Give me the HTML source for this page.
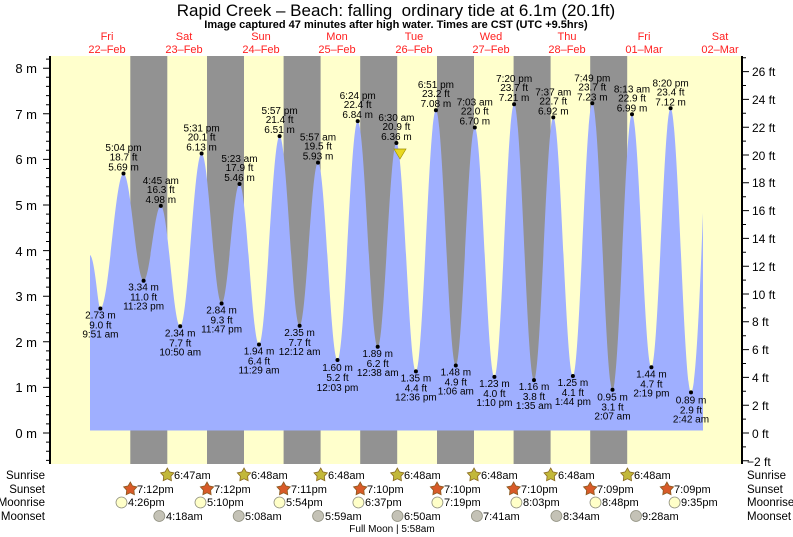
<!DOCTYPE html>
<html><head><meta charset="utf-8"><style>
html,body{margin:0;padding:0;background:#fff;}
svg{display:block;font-family:"Liberation Sans",sans-serif;}
</style></head><body>
<svg width="793" height="537" viewBox="0 0 793 537" xmlns="http://www.w3.org/2000/svg">
<rect x="0" y="0" width="793" height="537" fill="#fff"/>
<rect x="50" y="56" width="693" height="408" fill="#ffffcc"/>
<g fill="#929292">
<rect x="130.3" y="56" width="37" height="408"/>
<rect x="207" y="56" width="37" height="408"/>
<rect x="283.6" y="56" width="37" height="408"/>
<rect x="360.2" y="56" width="37" height="408"/>
<rect x="437" y="56" width="37" height="408"/>
<rect x="513.6" y="56" width="37" height="408"/>
<rect x="590.2" y="56" width="37" height="408"/>
</g>
<path fill="#9fafff" d="M90,430.5 L90,255 C95,258 98,308.5 100.4,308.5
C108.7,308.5 115.2,173.5 123.5,173.5
C130.7,173.5 136.4,280.7 143.6,280.7
C149.8,280.7 154.6,205.9 160.8,205.9
C167.8,205.9 173.2,326.3 180.2,326.3
C187.9,326.3 193.9,153.5 201.6,153.5
C208.8,153.5 214.4,303.5 221.6,303.5
C228,303.5 233.1,184 239.5,184
C246.5,184 252,344.5 259,344.5
C266.4,344.5 272.2,136.1 279.6,136.1
C286.8,136.1 292.4,325.8 299.6,325.8
C306.2,325.8 311.4,162.6 318,162.6
C325,162.6 330.5,360 337.5,360
C344.8,360 350.4,121.1 357.7,121.1
C364.9,121.1 370.5,346.8 377.7,346.8
C384.4,346.8 389.7,143 396.4,143
C403.4,143 408.9,371.4 415.9,371.4
C423.1,371.4 428.7,110.2 435.9,110.2
C443.1,110.2 448.6,365.5 455.8,365.5
C462.6,365.5 468,127.5 474.8,127.5
C481.9,127.5 487.3,376.9 494.4,376.9
C501.5,376.9 507,104.2 514.1,104.2
C521.3,104.2 526.8,380.1 534,380.1
C540.9,380.1 546.4,117.4 553.3,117.4
C560.4,117.4 565.8,376 572.9,376
C579.9,376 585.3,103.3 592.3,103.3
C599.6,103.3 605.2,389.7 612.5,389.7
C619.5,389.7 625,114.3 632,114.3
C639,114.3 644.4,367.3 651.4,367.3
C658.3,367.3 663.7,108.3 670.6,108.3
C677.9,108.3 683.7,392.4 691,392.4
C696,392.4 700,290 703,212.8 L703,430.5 Z"/>
<path stroke="#000" stroke-width="1" fill="none" d="
M43,433H50 M43,387.4H50 M43,341.8H50 M43,296.2H50 M43,250.6H50 M43,205H50 M43,159.4H50 M43,113.8H50 M43,68.2H50
M46,460.4H50 M46,451.2H50 M46,442.1H50 M46,423.9H50 M46,414.8H50 M46,405.6H50 M46,396.5H50 M46,378.3H50 M46,369.2H50 M46,360H50 M46,350.9H50 M46,332.7H50 M46,323.6H50 M46,314.4H50 M46,305.3H50 M46,287.1H50 M46,278H50 M46,268.8H50 M46,259.7H50 M46,241.5H50 M46,232.4H50 M46,223.2H50 M46,214.1H50 M46,195.9H50 M46,186.8H50 M46,177.6H50 M46,168.5H50 M46,150.3H50 M46,141.2H50 M46,132H50 M46,122.9H50 M46,104.7H50 M46,95.6H50 M46,86.4H50 M46,77.3H50 M46,59.1H50
M742,460.8H749 M742,433H749 M742,405.2H749 M742,377.4H749 M742,349.6H749 M742,321.8H749 M742,294H749 M742,266.2H749 M742,238.4H749 M742,210.6H749 M742,182.8H749 M742,155H749 M742,127.2H749 M742,99.4H749 M742,71.6H749
M742,446.9H746 M742,419.1H746 M742,391.3H746 M742,363.5H746 M742,335.7H746 M742,307.9H746 M742,280.1H746 M742,252.3H746 M742,224.5H746 M742,196.7H746 M742,168.9H746 M742,141.1H746 M742,113.3H746 M742,85.5H746 M742,57.7H746"/>
<line x1="50" y1="56" x2="50" y2="464" stroke="#000" stroke-width="2"/>
<line x1="742" y1="56" x2="742" y2="464" stroke="#000" stroke-width="2"/>
<g font-size="13" fill="#000" text-anchor="end">
<text x="37" y="73">8 m</text><text x="37" y="119">7 m</text><text x="37" y="164">6 m</text><text x="37" y="210">5 m</text><text x="37" y="256">4 m</text><text x="37" y="301">3 m</text><text x="37" y="347">2 m</text><text x="37" y="392">1 m</text><text x="37" y="438">0 m</text>
</g>
<g font-size="12" fill="#000" text-anchor="start">
<text x="752" y="76">26 ft</text><text x="752" y="104">24 ft</text><text x="752" y="132">22 ft</text><text x="752" y="160">20 ft</text><text x="752" y="187">18 ft</text><text x="752" y="215">16 ft</text><text x="752" y="243">14 ft</text><text x="752" y="271">12 ft</text><text x="752" y="299">10 ft</text><text x="752" y="326">8 ft</text><text x="752" y="354">6 ft</text><text x="752" y="382">4 ft</text><text x="752" y="410">2 ft</text><text x="752" y="438">0 ft</text><text x="747" y="466">−2 ft</text>
</g>
<text x="396" y="16" font-size="17" text-anchor="middle">Rapid Creek – Beach: falling&#160; ordinary tide at 6.1m (20.1ft)</text>
<text x="396" y="28" font-size="11" font-weight="bold" text-anchor="middle">Image captured 47 minutes after high water. Times are CST (UTC +9.5hrs)</text>
<g font-size="11" fill="#ff2020" text-anchor="middle">
<text x="107" y="40">Fri</text><text x="107" y="53">22–Feb</text>
<text x="184" y="40">Sat</text><text x="184" y="53">23–Feb</text>
<text x="261" y="40">Sun</text><text x="261" y="53">24–Feb</text>
<text x="337" y="40">Mon</text><text x="337" y="53">25–Feb</text>
<text x="414" y="40">Tue</text><text x="414" y="53">26–Feb</text>
<text x="491" y="40">Wed</text><text x="491" y="53">27–Feb</text>
<text x="567" y="40">Thu</text><text x="567" y="53">28–Feb</text>
<text x="644" y="40">Fri</text><text x="644" y="53">01–Mar</text>
<text x="720" y="40">Sat</text><text x="720" y="53">02–Mar</text>
</g>
<g fill="#000">
<circle cx="100.4" cy="308.5" r="2"/><circle cx="123.5" cy="173.5" r="2"/><circle cx="143.6" cy="280.7" r="2"/><circle cx="160.8" cy="205.9" r="2"/><circle cx="180.2" cy="326.3" r="2"/><circle cx="201.6" cy="153.5" r="2"/><circle cx="221.6" cy="303.5" r="2"/><circle cx="239.5" cy="184" r="2"/><circle cx="259" cy="344.5" r="2"/><circle cx="279.6" cy="136.1" r="2"/><circle cx="299.6" cy="325.8" r="2"/><circle cx="318" cy="162.6" r="2"/><circle cx="337.5" cy="360" r="2"/><circle cx="357.7" cy="121.1" r="2"/><circle cx="377.7" cy="346.8" r="2"/><circle cx="396.4" cy="143" r="2"/><circle cx="415.9" cy="371.4" r="2"/><circle cx="435.9" cy="110.2" r="2"/><circle cx="455.8" cy="365.5" r="2"/><circle cx="474.8" cy="127.5" r="2"/><circle cx="494.4" cy="376.9" r="2"/><circle cx="514.1" cy="104.2" r="2"/><circle cx="534" cy="380.1" r="2"/><circle cx="553.3" cy="117.4" r="2"/><circle cx="572.9" cy="376" r="2"/><circle cx="592.3" cy="103.3" r="2"/><circle cx="612.5" cy="389.7" r="2"/><circle cx="632" cy="114.3" r="2"/><circle cx="651.4" cy="367.3" r="2"/><circle cx="670.6" cy="108.3" r="2"/><circle cx="691" cy="392.4" r="2"/>
</g>
<polygon points="394,149 406,149 400,159" fill="#e8d820" stroke="#a09000" stroke-width="0.7"/>
<g font-size="10" fill="#000" text-anchor="middle">
<text x="100.4" y="318.5">2.73 m</text><text x="100.4" y="328.5">9.0 ft</text><text x="100.4" y="337.5">9:51 am</text>
<text x="123.5" y="170.5">5.69 m</text><text x="123.5" y="160.5">18.7 ft</text><text x="123.5" y="151">5:04 pm</text>
<text x="143.6" y="290.7">3.34 m</text><text x="143.6" y="300.7">11.0 ft</text><text x="143.6" y="309.7">11:23 pm</text>
<text x="160.8" y="202.9">4.98 m</text><text x="160.8" y="192.9">16.3 ft</text><text x="160.8" y="183.9">4:45 am</text>
<text x="180.2" y="336.3">2.34 m</text><text x="180.2" y="346.3">7.7 ft</text><text x="180.2" y="355.3">10:50 am</text>
<text x="201.6" y="150.5">6.13 m</text><text x="201.6" y="140.5">20.1 ft</text><text x="201.6" y="131.5">5:31 pm</text>
<text x="221.6" y="313.5">2.84 m</text><text x="221.6" y="323.5">9.3 ft</text><text x="221.6" y="332.5">11:47 pm</text>
<text x="239.5" y="181">5.46 m</text><text x="239.5" y="171">17.9 ft</text><text x="239.5" y="162">5:23 am</text>
<text x="259" y="354.5">1.94 m</text><text x="259" y="364.5">6.4 ft</text><text x="259" y="373.5">11:29 am</text>
<text x="279.6" y="133.1">6.51 m</text><text x="279.6" y="123.1">21.4 ft</text><text x="279.6" y="114.1">5:57 pm</text>
<text x="299.6" y="335.8">2.35 m</text><text x="299.6" y="345.8">7.7 ft</text><text x="299.6" y="354.8">12:12 am</text>
<text x="318" y="159.6">5.93 m</text><text x="318" y="149.6">19.5 ft</text><text x="318" y="140.6">5:57 am</text>
<text x="337.5" y="371">1.60 m</text><text x="337.5" y="381">5.2 ft</text><text x="337.5" y="391">12:03 pm</text>
<text x="357.7" y="118.1">6.84 m</text><text x="357.7" y="108.1">22.4 ft</text><text x="357.7" y="99.1">6:24 pm</text>
<text x="377.7" y="356.8">1.89 m</text><text x="377.7" y="366.8">6.2 ft</text><text x="377.7" y="375.8">12:38 am</text>
<text x="396.4" y="140">6.36 m</text><text x="396.4" y="130">20.9 ft</text><text x="396.4" y="121">6:30 am</text>
<text x="415.9" y="381.4">1.35 m</text><text x="415.9" y="391.4">4.4 ft</text><text x="415.9" y="400.4">12:36 pm</text>
<text x="435.9" y="107.2">7.08 m</text><text x="435.9" y="97.2">23.2 ft</text><text x="435.9" y="88.2">6:51 pm</text>
<text x="455.8" y="375.5">1.48 m</text><text x="455.8" y="385.5">4.9 ft</text><text x="455.8" y="394.5">1:06 am</text>
<text x="474.8" y="124.5">6.70 m</text><text x="474.8" y="114.5">22.0 ft</text><text x="474.8" y="105.5">7:03 am</text>
<text x="494.4" y="386.9">1.23 m</text><text x="494.4" y="396.9">4.0 ft</text><text x="494.4" y="405.9">1:10 pm</text>
<text x="514.1" y="101.2">7.21 m</text><text x="514.1" y="91.2">23.7 ft</text><text x="514.1" y="82.2">7:20 pm</text>
<text x="534" y="390.1">1.16 m</text><text x="534" y="400.1">3.8 ft</text><text x="534" y="409.1">1:35 am</text>
<text x="553.3" y="114.4">6.92 m</text><text x="553.3" y="104.4">22.7 ft</text><text x="553.3" y="95.4">7:37 am</text>
<text x="572.9" y="386">1.25 m</text><text x="572.9" y="396">4.1 ft</text><text x="572.9" y="405">1:44 pm</text>
<text x="592.3" y="100.3">7.23 m</text><text x="592.3" y="90.3">23.7 ft</text><text x="592.3" y="81.3">7:49 pm</text>
<text x="612.5" y="400.7">0.95 m</text><text x="612.5" y="410.7">3.1 ft</text><text x="612.5" y="419.7">2:07 am</text>
<text x="632" y="111.3">6.99 m</text><text x="632" y="101.3">22.9 ft</text><text x="632" y="92.3">8:13 am</text>
<text x="651.4" y="377.3">1.44 m</text><text x="651.4" y="387.3">4.7 ft</text><text x="651.4" y="396.3">2:19 pm</text>
<text x="670.6" y="105.3">7.12 m</text><text x="670.6" y="95.3">23.4 ft</text><text x="670.6" y="86.3">8:20 pm</text>
<text x="691" y="403.4">0.89 m</text><text x="691" y="413.4">2.9 ft</text><text x="691" y="422.4">2:42 am</text>
</g>
<g font-size="11.5" fill="#000">
<text x="45" y="479" text-anchor="end">Sunrise</text><text x="45" y="493" text-anchor="end">Sunset</text><text x="45" y="506" text-anchor="end">Moonrise</text><text x="45" y="520" text-anchor="end">Moonset</text>
<text x="747" y="479">Sunrise</text><text x="747" y="493">Sunset</text><text x="747" y="506">Moonrise</text><text x="747" y="520">Moonset</text>
</g>
<g fill="#c2b83a" stroke="#8a6a20" stroke-width="0.8">
<polygon transform="translate(167.3,475)" points="0,-7 2.23,-3.07 6.66,-2.16 3.61,1.17 4.11,5.66 0,3.8 -4.11,5.66 -3.61,1.17 -6.66,-2.16 -2.23,-3.07"/>
<polygon transform="translate(244,475)" points="0,-7 2.23,-3.07 6.66,-2.16 3.61,1.17 4.11,5.66 0,3.8 -4.11,5.66 -3.61,1.17 -6.66,-2.16 -2.23,-3.07"/>
<polygon transform="translate(320.7,475)" points="0,-7 2.23,-3.07 6.66,-2.16 3.61,1.17 4.11,5.66 0,3.8 -4.11,5.66 -3.61,1.17 -6.66,-2.16 -2.23,-3.07"/>
<polygon transform="translate(397.3,475)" points="0,-7 2.23,-3.07 6.66,-2.16 3.61,1.17 4.11,5.66 0,3.8 -4.11,5.66 -3.61,1.17 -6.66,-2.16 -2.23,-3.07"/>
<polygon transform="translate(474,475)" points="0,-7 2.23,-3.07 6.66,-2.16 3.61,1.17 4.11,5.66 0,3.8 -4.11,5.66 -3.61,1.17 -6.66,-2.16 -2.23,-3.07"/>
<polygon transform="translate(550.7,475)" points="0,-7 2.23,-3.07 6.66,-2.16 3.61,1.17 4.11,5.66 0,3.8 -4.11,5.66 -3.61,1.17 -6.66,-2.16 -2.23,-3.07"/>
<polygon transform="translate(627.4,475)" points="0,-7 2.23,-3.07 6.66,-2.16 3.61,1.17 4.11,5.66 0,3.8 -4.11,5.66 -3.61,1.17 -6.66,-2.16 -2.23,-3.07"/>
</g>
<g fill="#d85a28" stroke="#8a5a20" stroke-width="0.8">
<polygon transform="translate(130.3,489)" points="0,-7 2.23,-3.07 6.66,-2.16 3.61,1.17 4.11,5.66 0,3.8 -4.11,5.66 -3.61,1.17 -6.66,-2.16 -2.23,-3.07"/>
<polygon transform="translate(207,489)" points="0,-7 2.23,-3.07 6.66,-2.16 3.61,1.17 4.11,5.66 0,3.8 -4.11,5.66 -3.61,1.17 -6.66,-2.16 -2.23,-3.07"/>
<polygon transform="translate(283.6,489)" points="0,-7 2.23,-3.07 6.66,-2.16 3.61,1.17 4.11,5.66 0,3.8 -4.11,5.66 -3.61,1.17 -6.66,-2.16 -2.23,-3.07"/>
<polygon transform="translate(360.2,489)" points="0,-7 2.23,-3.07 6.66,-2.16 3.61,1.17 4.11,5.66 0,3.8 -4.11,5.66 -3.61,1.17 -6.66,-2.16 -2.23,-3.07"/>
<polygon transform="translate(437,489)" points="0,-7 2.23,-3.07 6.66,-2.16 3.61,1.17 4.11,5.66 0,3.8 -4.11,5.66 -3.61,1.17 -6.66,-2.16 -2.23,-3.07"/>
<polygon transform="translate(513.6,489)" points="0,-7 2.23,-3.07 6.66,-2.16 3.61,1.17 4.11,5.66 0,3.8 -4.11,5.66 -3.61,1.17 -6.66,-2.16 -2.23,-3.07"/>
<polygon transform="translate(590.2,489)" points="0,-7 2.23,-3.07 6.66,-2.16 3.61,1.17 4.11,5.66 0,3.8 -4.11,5.66 -3.61,1.17 -6.66,-2.16 -2.23,-3.07"/>
<polygon transform="translate(666.9,489)" points="0,-7 2.23,-3.07 6.66,-2.16 3.61,1.17 4.11,5.66 0,3.8 -4.11,5.66 -3.61,1.17 -6.66,-2.16 -2.23,-3.07"/>
</g>
<g fill="#ffffc8" stroke="#909080" stroke-width="0.8">
<circle cx="121.5" cy="502.5" r="5.5"/><circle cx="200.5" cy="502.5" r="5.5"/><circle cx="279.5" cy="502.5" r="5.5"/><circle cx="358.4" cy="502.5" r="5.5"/><circle cx="437.4" cy="502.5" r="5.5"/><circle cx="516.4" cy="502.5" r="5.5"/><circle cx="595.5" cy="502.5" r="5.5"/><circle cx="674.6" cy="502.5" r="5.5"/>
</g>
<g fill="#c4c2b6" stroke="#909080" stroke-width="0.8">
<circle cx="159.3" cy="516" r="5.5"/><circle cx="238.7" cy="516" r="5.5"/><circle cx="318.1" cy="516" r="5.5"/><circle cx="397.5" cy="516" r="5.5"/><circle cx="476.9" cy="516" r="5.5"/><circle cx="556.4" cy="516" r="5.5"/><circle cx="636" cy="516" r="5.5"/>
</g>
<g font-size="11" fill="#000">
<text x="174" y="479">6:47am</text><text x="251" y="479">6:48am</text><text x="328" y="479">6:48am</text><text x="404" y="479">6:48am</text><text x="481" y="479">6:48am</text><text x="558" y="479">6:48am</text><text x="634" y="479">6:48am</text>
<text x="137" y="493">7:12pm</text><text x="214" y="493">7:12pm</text><text x="291" y="493">7:11pm</text><text x="367" y="493">7:10pm</text><text x="444" y="493">7:10pm</text><text x="521" y="493">7:10pm</text><text x="597" y="493">7:09pm</text><text x="674" y="493">7:09pm</text>
<text x="128" y="506">4:26pm</text><text x="207" y="506">5:10pm</text><text x="286" y="506">5:54pm</text><text x="365" y="506">6:37pm</text><text x="444" y="506">7:19pm</text><text x="523" y="506">8:03pm</text><text x="602" y="506">8:48pm</text><text x="681" y="506">9:35pm</text>
<text x="166" y="520">4:18am</text><text x="245" y="520">5:08am</text><text x="325" y="520">5:59am</text><text x="404" y="520">6:50am</text><text x="483" y="520">7:41am</text><text x="563" y="520">8:34am</text><text x="642" y="520">9:28am</text>
<text x="392" y="532" font-size="10" text-anchor="middle">Full Moon | 5:58am</text>
</g>
</svg>
</body></html>
